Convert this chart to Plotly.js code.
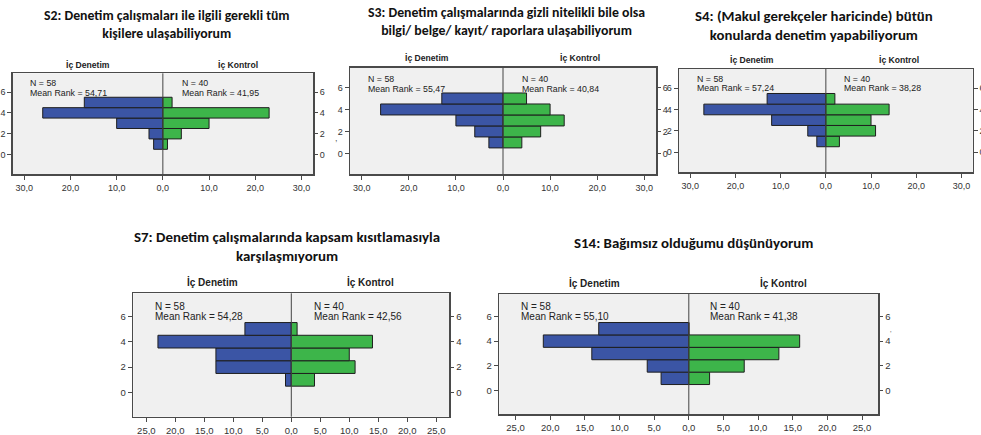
<!DOCTYPE html>
<html>
<head>
<meta charset="utf-8">
<script src="https://cdn.plot.ly/plotly-3.0.1.min.js"></script>
<style>html,body{margin:0;padding:0;background:#fff;}#chart{width:981px;height:435px;}</style>
</head>
<body>
<div id="chart"></div>
<script>
// ---------------- DATA ----------------
const categories = [1, 2, 3, 4, 5];
const groupLeft = "İç Denetim";
const groupRight = "İç Kontrol";

const s2_icDenetim = [2, 3, 10, 26, 17];
const s2_icKontrol = [1, 4, 10, 23, 2];
const s3_icDenetim = [3, 6, 10, 26, 13];
const s3_icKontrol = [4, 8, 13, 10, 5];
const s4_icDenetim = [2, 4, 12, 27, 13];
const s4_icKontrol = [3, 11, 10, 14, 2];
const s7_icDenetim = [1, 13, 13, 23, 8];
const s7_icKontrol = [4, 11, 10, 14, 1];
const s14_icDenetim = [4, 6, 14, 21, 13];
const s14_icKontrol = [3, 8, 13, 16, 0];

const panelTitles = [
  "S2: Denetim çalışmaları ile ilgili gerekli tüm<br>kişilere ulaşabiliyorum",
  "S3: Denetim çalışmalarında gizli nitelikli bile olsa<br>bilgi/ belge/ kayıt/ raporlara ulaşabiliyorum",
  "S4: (Makul gerekçeler haricinde) bütün<br>konularda denetim yapabiliyorum",
  "S7: Denetim çalışmalarında kapsam kısıtlamasıyla<br>karşılaşmıyorum",
  "S14: Bağımsız olduğumu düşünüyorum"
];
const nLeft = [58, 58, 58, 58, 58];
const nRight = [40, 40, 40, 40, 40];
const meanRankLeft = ["54,71", "55,47", "57,24", "54,28", "55,10"];
const meanRankRight = ["41,95", "40,84", "38,28", "42,56", "41,38"];

const yTickVals = [0, 2, 4, 6];
const yTickText = ["0", "2", "4", "6"];
const xTickValsTop = [-30, -20, -10, 0, 10, 20, 30];
const xTickTextTop = ["30,0", "20,0", "10,0", "0,0", "10,0", "20,0", "30,0"];
const xTickValsBottom = [-25, -20, -15, -10, -5, 0, 5, 10, 15, 20, 25];
const xTickTextBottom = ["25,0", "20,0", "15,0", "10,0", "5,0", "0,0", "5,0", "10,0", "15,0", "20,0", "25,0"];

const leftSeries = [s2_icDenetim, s3_icDenetim, s4_icDenetim, s7_icDenetim, s14_icDenetim];
const rightSeries = [s2_icKontrol, s3_icKontrol, s4_icKontrol, s7_icKontrol, s14_icKontrol];

// ---------------- LAYOUT (pixel boxes) ----------------
const W = 981, H = 435;
const boxes = [
  {l: 12.7, r: 313, t: 73.3, b: 174.3, xr: 32.5, big: false, titleY: 24.8, titleX: 167, titleSize: 13.8, groupY: 65, nY: 83.3, mY: 93.3, textL: 28.3, textR: 180},
  {l: 350, r: 656, t: 67.7, b: 174.3, xr: 32.5, big: false, titleY: 21.5, titleX: 506, titleSize: 13.8, groupY: 58.3, nY: 79.3, mY: 88.8, textL: 366, textR: 520},
  {l: 679, r: 972.7, t: 69, b: 172.3, xr: 32.5, big: false, titleY: 25, titleX: 814, titleSize: 14.8, groupY: 60, nY: 79, mY: 88.5, textL: 695, textR: 841.7},
  {l: 133.3, r: 449.3, t: 293.3, b: 416.7, xr: 27.25, big: true, titleY: 246.7, titleX: 287, titleSize: 14.9, groupY: 281.7, nY: 306, mY: 316.7, textL: 153.3, textR: 311.7},
  {l: 499.3, r: 878.3, t: 294, b: 414.3, xr: 27.35, big: true, titleY: 243.3, titleX: 693, titleSize: 14.9, groupY: 282.7, nY: 306, mY: 316.7, textL: 519.3, textR: 708.3}
];
const px = x => x / W;
const py = y => 1 - y / H;

const BLUE = "#3b55a5", GREEN = "#3db54a", EDGE = "#1e1e1e", FRAME = "#4a4a4a";
const TICKFONT = "Liberation Sans, Arial, sans-serif";
const TITLEFONT = "Carlito, Lato, 'Open Sans', sans-serif";

const traces = [];
const layout = {
  width: W, height: H,
  margin: {l: 0, r: 0, t: 0, b: 0, pad: 0},
  paper_bgcolor: "#ffffff",
  plot_bgcolor: "#f0f0f0",
  showlegend: false,
  barmode: "overlay",
  bargap: 0,
  annotations: [],
  shapes: []
};

boxes.forEach((b, i) => {
  const xi = i + 1, yl = 2 * i + 1, yr = 2 * i + 2;
  const xName = "x" + (xi === 1 ? "" : xi);
  const ylName = "y" + (yl === 1 ? "" : yl);
  const yrName = "y" + yr;
  const tickSize = b.big ? 9.5 : 9;

  traces.push({
    type: "bar", orientation: "h",
    y: categories, x: leftSeries[i].map(v => -v),
    width: 1,
    marker: {color: BLUE, line: {color: EDGE, width: 1}},
    xaxis: xName, yaxis: ylName, hoverinfo: "skip"
  });
  traces.push({
    type: "bar", orientation: "h",
    y: categories, x: rightSeries[i],
    width: 1,
    marker: {color: GREEN, line: {color: EDGE, width: 1}},
    xaxis: xName, yaxis: ylName, hoverinfo: "skip"
  });
  // invisible trace to activate the right-side axis
  traces.push({
    type: "scatter", mode: "markers", x: [0], y: [0],
    marker: {opacity: 0, size: 1},
    xaxis: xName, yaxis: yrName, hoverinfo: "skip"
  });

  layout["xaxis" + (xi === 1 ? "" : xi)] = {
    domain: [px(b.l), px(b.r)],
    anchor: ylName,
    range: [-b.xr, b.xr],
    tickvals: b.big ? xTickValsBottom : xTickValsTop,
    ticktext: b.big ? xTickTextBottom : xTickTextTop,
    ticks: "outside", ticklen: 4, tickcolor: FRAME, tickwidth: 1,
    tickfont: {family: TICKFONT, size: tickSize, color: "#333"},
    showline: true, mirror: true, linecolor: FRAME, linewidth: 1.5,
    showgrid: false, zeroline: false, fixedrange: true
  };
  layout["yaxis" + (yl === 1 ? "" : yl)] = {
    domain: [py(b.b), py(b.t)],
    anchor: xName,
    range: [-1.9, 7.8],
    tickvals: yTickVals, ticktext: yTickText,
    ticks: "outside", ticklen: 4, tickcolor: FRAME, tickwidth: 1,
    tickfont: {family: TICKFONT, size: tickSize, color: "#333"},
    showline: true, mirror: true, linecolor: FRAME, linewidth: 1.5,
    showgrid: false, zeroline: false, fixedrange: true
  };
  layout["yaxis" + yr] = {
    overlaying: ylName, side: "right", anchor: xName,
    range: [-1.9, 7.8],
    tickvals: yTickVals, ticktext: yTickText,
    ticks: "outside", ticklen: 4, tickcolor: FRAME, tickwidth: 1,
    tickfont: {family: TICKFONT, size: tickSize, color: "#333"},
    showline: false, showgrid: false, zeroline: false, fixedrange: true
  };

  // centre line
  layout.shapes.push({
    type: "line", xref: xName, yref: ylName + " domain",
    x0: 0, x1: 0, y0: 0, y1: 1,
    line: {color: "#444", width: 1}, layer: "above"
  });

  const cx = (b.l + b.r) / 2;
  layout.annotations.push({
    xref: "paper", yref: "paper", x: px(b.titleX), y: py(b.titleY),
    xanchor: "center", yanchor: "middle", showarrow: false,
    text: "<b>" + panelTitles[i] + "</b>",
    font: {family: TITLEFONT, size: b.titleSize, color: "#111"}
  });
  const groupSize = b.big ? 10 : 8.6;
  layout.annotations.push({
    xref: "paper", yref: "paper", x: px((b.l + cx) / 2), y: py(b.groupY),
    xanchor: "center", yanchor: "middle", showarrow: false,
    text: "<b>" + groupLeft + "</b>",
    font: {family: TICKFONT, size: groupSize, color: "#222"}
  });
  layout.annotations.push({
    xref: "paper", yref: "paper", x: px((cx + b.r) / 2), y: py(b.groupY),
    xanchor: "center", yanchor: "middle", showarrow: false,
    text: "<b>" + groupRight + "</b>",
    font: {family: TICKFONT, size: groupSize, color: "#222"}
  });
  const infoSize = b.big ? 10 : 8.8;
  [[b.textL, nLeft[i], meanRankLeft[i]], [b.textR, nRight[i], meanRankRight[i]]].forEach(([tx, n, mr]) => {
    layout.annotations.push({
      xref: "paper", yref: "paper", x: px(tx), y: py(b.nY),
      xanchor: "left", yanchor: "middle", showarrow: false,
      text: "N = " + n,
      font: {family: TICKFONT, size: infoSize, color: "#222"}
    });
    layout.annotations.push({
      xref: "paper", yref: "paper", x: px(tx), y: py(b.mY),
      xanchor: "left", yanchor: "middle", showarrow: false,
      text: "Mean Rank = " + mr,
      font: {family: TICKFONT, size: infoSize, color: "#222"}
    });
  });
});

// small stray marks present in the original picture
layout.annotations.push({xref: "paper", yref: "paper", x: px(336), y: py(138), xanchor: "center", yanchor: "middle", showarrow: false, text: ",", font: {family: TICKFONT, size: 9, color: "#555"}});
layout.annotations.push({xref: "paper", yref: "paper", x: px(891), y: py(333), xanchor: "center", yanchor: "middle", showarrow: false, text: "'", font: {family: TICKFONT, size: 8, color: "#777"}});

Plotly.newPlot("chart", traces, layout, {displayModeBar: false, staticPlot: true});
</script>
</body>
</html>
